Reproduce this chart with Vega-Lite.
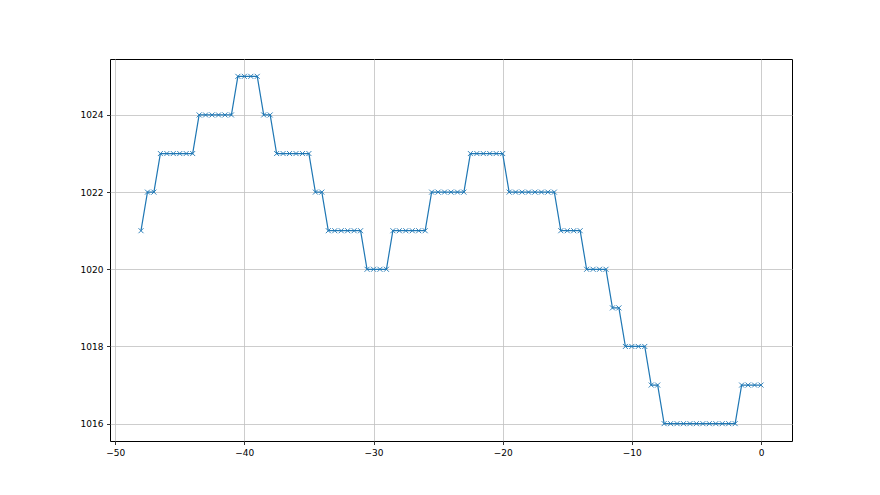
{
  "$schema": "https://vega.github.io/schema/vega-lite/v6.json",
  "width": 682,
  "height": 382,
  "autosize": {"type": "none"},
  "padding": {"left": 110, "top": 59, "right": 88, "bottom": 54},
  "background": "white",
  "config": {
    "view": {"stroke": "black", "strokeWidth": 1},
    "axis": {
      "labelFont": "DejaVu Sans",
      "labelFontSize": 9,
      "labelColor": "black",
      "tickColor": "black",
      "tickSize": 3.5,
      "tickWidth": 0.8,
      "domain": false,
      "gridColor": "#c0c0c0",
      "gridWidth": 0.8,
      "gridOpacity": 1,
      "labelPadding": 3.5,
      "title": null
    }
  },
  "data": {"values": [
    {"t": -48, "p": 1021},
    {"t": -47.5, "p": 1022}, {"t": -47, "p": 1022},
    {"t": -46.5, "p": 1023}, {"t": -46, "p": 1023}, {"t": -45.5, "p": 1023}, {"t": -45, "p": 1023}, {"t": -44.5, "p": 1023}, {"t": -44, "p": 1023},
    {"t": -43.5, "p": 1024}, {"t": -43, "p": 1024}, {"t": -42.5, "p": 1024}, {"t": -42, "p": 1024}, {"t": -41.5, "p": 1024}, {"t": -41, "p": 1024},
    {"t": -40.5, "p": 1025}, {"t": -40, "p": 1025}, {"t": -39.5, "p": 1025}, {"t": -39, "p": 1025},
    {"t": -38.5, "p": 1024}, {"t": -38, "p": 1024},
    {"t": -37.5, "p": 1023}, {"t": -37, "p": 1023}, {"t": -36.5, "p": 1023}, {"t": -36, "p": 1023}, {"t": -35.5, "p": 1023}, {"t": -35, "p": 1023},
    {"t": -34.5, "p": 1022}, {"t": -34, "p": 1022},
    {"t": -33.5, "p": 1021}, {"t": -33, "p": 1021}, {"t": -32.5, "p": 1021}, {"t": -32, "p": 1021}, {"t": -31.5, "p": 1021}, {"t": -31, "p": 1021},
    {"t": -30.5, "p": 1020}, {"t": -30, "p": 1020}, {"t": -29.5, "p": 1020}, {"t": -29, "p": 1020},
    {"t": -28.5, "p": 1021}, {"t": -28, "p": 1021}, {"t": -27.5, "p": 1021}, {"t": -27, "p": 1021}, {"t": -26.5, "p": 1021}, {"t": -26, "p": 1021},
    {"t": -25.5, "p": 1022}, {"t": -25, "p": 1022}, {"t": -24.5, "p": 1022}, {"t": -24, "p": 1022}, {"t": -23.5, "p": 1022}, {"t": -23, "p": 1022},
    {"t": -22.5, "p": 1023}, {"t": -22, "p": 1023}, {"t": -21.5, "p": 1023}, {"t": -21, "p": 1023}, {"t": -20.5, "p": 1023}, {"t": -20, "p": 1023},
    {"t": -19.5, "p": 1022}, {"t": -19, "p": 1022}, {"t": -18.5, "p": 1022}, {"t": -18, "p": 1022}, {"t": -17.5, "p": 1022}, {"t": -17, "p": 1022}, {"t": -16.5, "p": 1022}, {"t": -16, "p": 1022},
    {"t": -15.5, "p": 1021}, {"t": -15, "p": 1021}, {"t": -14.5, "p": 1021}, {"t": -14, "p": 1021},
    {"t": -13.5, "p": 1020}, {"t": -13, "p": 1020}, {"t": -12.5, "p": 1020}, {"t": -12, "p": 1020},
    {"t": -11.5, "p": 1019}, {"t": -11, "p": 1019},
    {"t": -10.5, "p": 1018}, {"t": -10, "p": 1018}, {"t": -9.5, "p": 1018}, {"t": -9, "p": 1018},
    {"t": -8.5, "p": 1017}, {"t": -8, "p": 1017},
    {"t": -7.5, "p": 1016}, {"t": -7, "p": 1016}, {"t": -6.5, "p": 1016}, {"t": -6, "p": 1016}, {"t": -5.5, "p": 1016}, {"t": -5, "p": 1016}, {"t": -4.5, "p": 1016}, {"t": -4, "p": 1016}, {"t": -3.5, "p": 1016}, {"t": -3, "p": 1016}, {"t": -2.5, "p": 1016}, {"t": -2, "p": 1016},
    {"t": -1.5, "p": 1017}, {"t": -1, "p": 1017}, {"t": -0.5, "p": 1017}, {"t": 0, "p": 1017}
  ]},
  "encoding": {
    "x": {
      "field": "t", "type": "quantitative",
      "scale": {"domain": [-50.4, 2.4], "nice": false, "zero": false},
      "axis": {"values": [-50, -40, -30, -20, -10, 0], "format": "d"}
    },
    "y": {
      "field": "p", "type": "quantitative",
      "scale": {"domain": [1015.55, 1025.45], "nice": false, "zero": false},
      "axis": {"values": [1016, 1018, 1020, 1022, 1024], "format": "d"}
    }
  },
  "layer": [
    {"mark": {"type": "line", "color": "#1f77b4", "strokeWidth": 1.2}},
    {"mark": {"type": "point", "shape": "M-1,-1L1,1M-1,1L1,-1", "filled": false, "stroke": "#1f77b4", "strokeWidth": 0.9, "size": 25, "opacity": 1}}
  ]
}
